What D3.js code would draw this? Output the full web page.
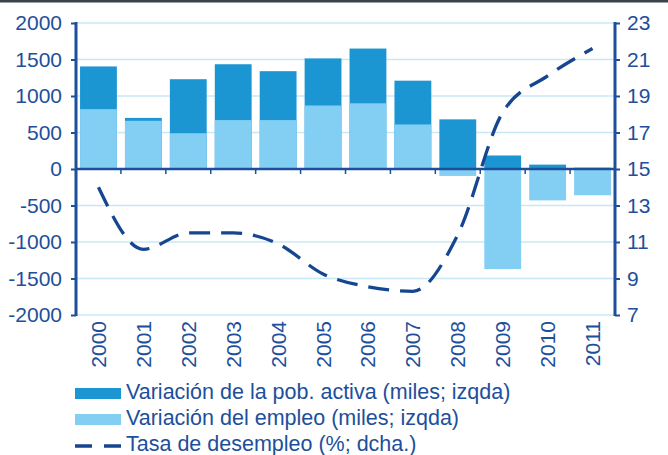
<!DOCTYPE html>
<html lang="es">
<head>
  <meta charset="utf-8">
  <title>Población activa, empleo y desempleo</title>
  <script src="https://d3js.org/d3.v7.min.js"></script>
  <style>
    body { margin: 0; background: #fff; }
    svg { display: block; font-family: "Liberation Sans", Arial, sans-serif; }
  </style>
</head>
<body>
<script>
  // data
  var years = ["2000", "2001", "2002", "2003", "2004", "2005", "2006", "2007", "2008", "2009", "2010", "2011"];
  var pobActiva = [1405, 700, 1230, 1435, 1340, 1515, 1650, 1210, 680, 185, 60, 18];   // miles, izqda
  var empleo = [820, 660, 490, 670, 670, 870, 900, 610, -95, -1370, -430, -360];       // miles, izqda
  var desempleo = [14.0, 10.6, 11.5, 11.5, 10.9, 9.25, 8.55, 8.3, 11.4, 18.1, 20.1, 21.6]; // %, dcha
  var leftTicks = [2000, 1500, 1000, 500, 0, -500, -1000, -1500, -2000];
  var rightTicks = [23, 21, 19, 17, 15, 13, 11, 9, 7];
  var legendLabels = ["Variación de la pob. activa (miles; izqda)", "Variación del empleo (miles; izqda)", "Tasa de desempleo (%; dcha.)"];

  var W = 668, H = 455;
  var x0 = 76, x1 = 615, yTop = 23, yBot = 315;
  var navy = "#1d4f9b", lineCol = "#15468f", dark = "#1b96d3", light = "#83cff4", grid = "#c8e8f6";

  var svg = d3.select("body").append("svg").attr("width", W).attr("height", H);

  // thin dark rule at the very top
  svg.append("rect").attr("x", 0).attr("y", 0).attr("width", W).attr("height", 2.5).attr("fill", "#3d4246");

  var x = d3.scaleBand().domain(years).range([x0, x1]).paddingInner(0.18).paddingOuter(0.09);
  var yL = d3.scaleLinear().domain([-2000, 2000]).range([yBot, yTop]);
  var yR = d3.scaleLinear().domain([7, 23]).range([yBot, yTop]);

  // gridlines
  svg.append("g").selectAll("line").data(leftTicks.filter(function(d) { return d !== 0; }))
    .enter().append("line")
    .attr("x1", x0).attr("x2", x1)
    .attr("y1", function(d) { return yL(d); }).attr("y2", function(d) { return yL(d); })
    .attr("stroke", grid).attr("stroke-width", 1.5);

  // bars: pob. activa behind, empleo in front
  svg.append("g").selectAll("rect").data(years).enter().append("rect")
    .attr("x", function(d) { return x(d); })
    .attr("width", x.bandwidth())
    .attr("y", function(d, i) { return yL(Math.max(0, pobActiva[i])); })
    .attr("height", function(d, i) { return Math.abs(yL(pobActiva[i]) - yL(0)); })
    .attr("fill", dark);

  svg.append("g").selectAll("rect").data(years).enter().append("rect")
    .attr("x", function(d) { return x(d); })
    .attr("width", x.bandwidth())
    .attr("y", function(d, i) { return yL(Math.max(0, empleo[i])); })
    .attr("height", function(d, i) { return Math.abs(yL(empleo[i]) - yL(0)); })
    .attr("fill", light);

  // zero line with category ticks
  var zero = svg.append("g").attr("transform", "translate(0," + yL(0) + ")");
  zero.append("line").attr("x1", x0).attr("x2", x1).attr("stroke", navy).attr("stroke-width", 2.5);
  zero.selectAll(".tk").data(d3.range(1, years.length)).enter().append("line")
    .attr("x1", function(k) { return x0 + k * x.step(); })
    .attr("x2", function(k) { return x0 + k * x.step(); })
    .attr("y1", 0).attr("y2", 5)
    .attr("stroke", navy).attr("stroke-width", 1.5);

  // left axis
  var axL = svg.append("g").attr("transform", "translate(" + x0 + ",0)")
    .call(d3.axisLeft(yL).tickValues(leftTicks).tickSize(5).tickPadding(9).tickFormat(function(d) { return String(d); }));
  // right axis
  var axR = svg.append("g").attr("transform", "translate(" + x1 + ",0)")
    .call(d3.axisRight(yR).tickValues(rightTicks).tickSize(5).tickPadding(7));
  [axL, axR].forEach(function(ax) {
    ax.select(".domain").attr("stroke", navy).attr("stroke-width", 3).attr("d",
      "M0," + (yTop - 1) + "V" + (yBot + 1));
    ax.selectAll(".tick line").attr("stroke", navy).attr("stroke-width", 2);
    ax.selectAll("text").attr("fill", navy).attr("font-size", 21).attr("font-family", "Liberation Sans, Arial, sans-serif");
  });

  // rotated year labels
  svg.append("g").selectAll("text").data(years).enter().append("text")
    .attr("transform", function(d) { return "translate(" + (x(d) + x.bandwidth() / 2 + 7.5) + "," + 321 + ") rotate(-90)"; })
    .attr("text-anchor", "end")
    .attr("fill", navy).attr("font-size", 21)
    .text(function(d) { return d; });

  // unemployment line, smoothed
  var line = d3.line()
    .x(function(d, i) { return x(years[i]) + x.bandwidth() / 2; })
    .y(function(d) { return yR(d); })
    .curve(d3.curveMonotoneX);
  svg.append("path").datum(desempleo).attr("d", line)
    .attr("fill", "none").attr("stroke", lineCol).attr("stroke-width", 3.3)
    .attr("stroke-dasharray", "21,11");

  // legend
  var lg = svg.append("g");
  var rows = [388, 414, 440];
  lg.append("rect").attr("x", 75).attr("y", rows[0]).attr("width", 46).attr("height", 11).attr("fill", dark);
  lg.append("rect").attr("x", 75).attr("y", rows[1]).attr("width", 46).attr("height", 11).attr("fill", light);
  lg.append("line").attr("x1", 75).attr("x2", 121).attr("y1", rows[2] + 6).attr("y2", rows[2] + 6)
    .attr("stroke", lineCol).attr("stroke-width", 3.3).attr("stroke-dasharray", "17,12");
  lg.selectAll("text").data(legendLabels).enter().append("text")
    .attr("x", 126).attr("y", function(d, i) { return rows[i] + 11; })
    .attr("fill", navy).attr("font-size", 21.5)
    .text(function(d) { return d; });
</script>
</body>
</html>
